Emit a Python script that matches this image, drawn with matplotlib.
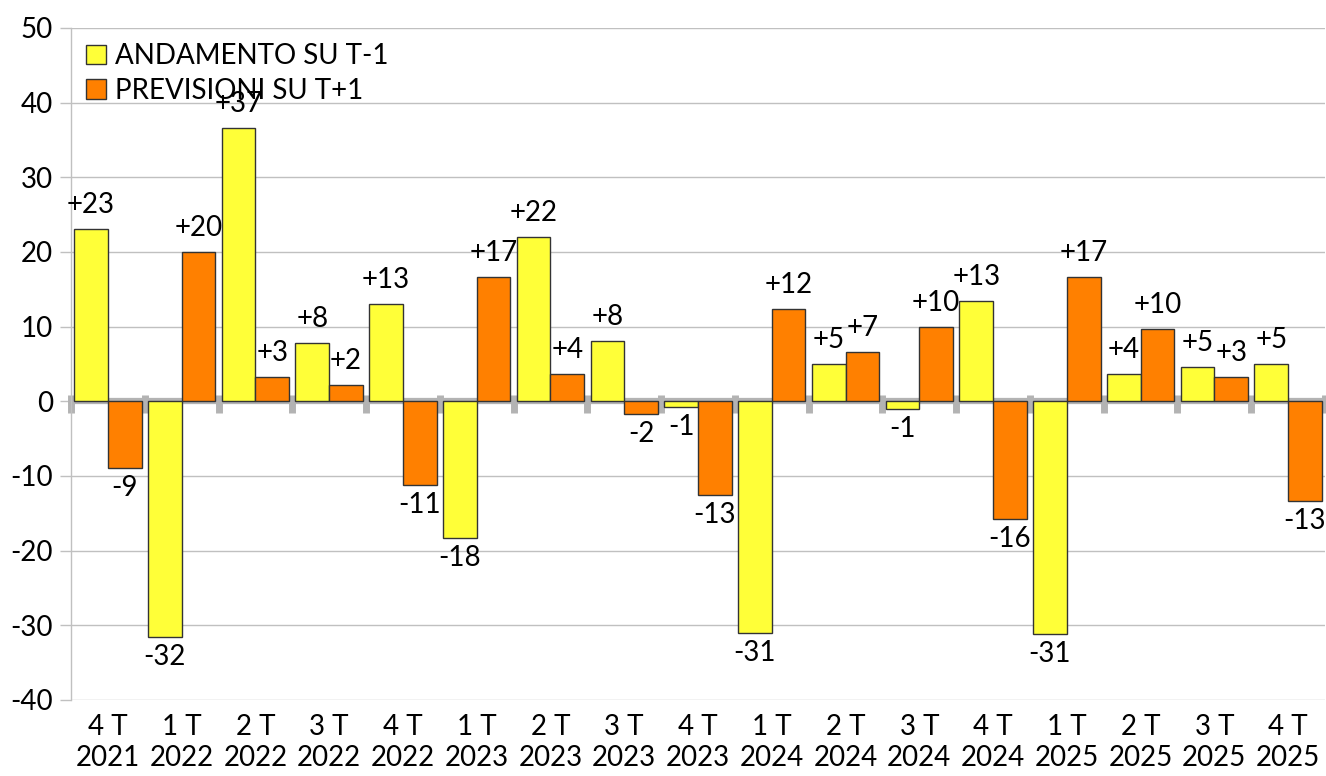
import matplotlib
matplotlib.use("Agg")
import matplotlib.pyplot as plt
import numpy as np
from matplotlib.patches import Patch

categories = ["4 T\n2021", "1 T\n2022", "2 T\n2022", "3 T\n2022", "4 T\n2022",
              "1 T\n2023", "2 T\n2023", "3 T\n2023", "4 T\n2023", "1 T\n2024",
              "2 T\n2024", "3 T\n2024", "4 T\n2024", "1 T\n2025", "2 T\n2025",
              "3 T\n2025", "4 T\n2025"]
andamento = [23.1, -31.6, 36.6, 7.8, 13.0, -18.3, 22.0, 8.1, -0.7, -31.0,
             5.0, -1.0, 13.4, -31.2, 3.7, 4.6, 5.0]
previsioni = [-8.9, 20.0, 3.2, 2.2, -11.2, 16.7, 3.6, -1.7, -12.6, 12.4,
              6.6, 10.0, -15.7, 16.6, 9.7, 3.3, -13.4]
series_names = ["ANDAMENTO SU T-1", "PREVISIONI SU T+1"]
yticks = [-40, -30, -20, -10, 0, 10, 20, 30, 40, 50]

plt.rcParams['font.family'] = ['Lato', 'DejaVu Sans']
FS = 20

fig = plt.figure(figsize=(13.26, 7.76), dpi=100)
ax = fig.add_axes([71/1326, 1-700/776, (1325-71)/1326, (700-28)/776])

x = np.arange(len(categories))
w = 0.457
yellow = "#ffff38"
orange = "#ff8000"

b1 = ax.bar(x - w/2, andamento, w, color=yellow, edgecolor="#333333", linewidth=1.0, zorder=3)
b2 = ax.bar(x + w/2, previsioni, w, color=orange, edgecolor="#333333", linewidth=1.0, zorder=3)

ax.set_xlim(-0.5, len(categories) - 0.5)
ax.set_ylim(-40, 50)
ax.set_yticks(yticks)
ax.set_yticklabels([str(t) for t in yticks], fontsize=FS)
ax.yaxis.grid(True, color="#c0c0c0", linewidth=1.0, zorder=0)
ax.set_axisbelow(True)

for s in ["top", "right", "bottom"]:
    ax.spines[s].set_visible(False)
ax.spines["left"].set_color("#c0c0c0")
ax.spines["left"].set_linewidth(1.0)
ax.tick_params(axis="y", length=8, color="#c0c0c0", width=1.0, pad=5)

ax.set_xticks(x)
ax.set_xticklabels(categories, fontsize=FS, linespacing=1.25)
ax.tick_params(axis="x", length=0, pad=10)

# zero axis line with category-boundary tick marks
ax.axhline(0, color="#b3b3b3", linewidth=4.5, zorder=2)
bounds = np.arange(len(categories) + 1) - 0.5
for bx in bounds:
    ax.plot([bx, bx], [0.9, -1.6], color="#b3b3b3", linewidth=5,
            solid_capstyle="butt", zorder=2, clip_on=False)

def label(bars, vals):
    for rect, v in zip(bars, vals):
        cx = rect.get_x() + rect.get_width()/2
        r = int(np.floor(abs(v) + 0.5)) * (1 if v >= 0 else -1)
        txt = "%+d" % r if r != 0 else "0"
        if v >= 0:
            ax.annotate(txt, (cx, v), xytext=(0, 8), textcoords="offset points",
                        ha="center", va="bottom", fontsize=FS, zorder=5)
        else:
            ax.annotate(txt, (cx, v), xytext=(0, -5), textcoords="offset points",
                        ha="center", va="top", fontsize=FS, zorder=5)

label(b1, andamento)
label(b2, previsioni)

handles = [Patch(facecolor=yellow, edgecolor="#333333", linewidth=1.0),
           Patch(facecolor=orange, edgecolor="#333333", linewidth=1.0)]
leg = ax.legend(handles, series_names, loc="upper left", frameon=False, fontsize=FS,
                handlelength=0.7, handleheight=0.7, handletextpad=0.35,
                labelspacing=0.3, borderaxespad=0.15, bbox_to_anchor=(0.0, 1.0))
leg.set_zorder(4)

fig.savefig("out.png", dpi=100)
